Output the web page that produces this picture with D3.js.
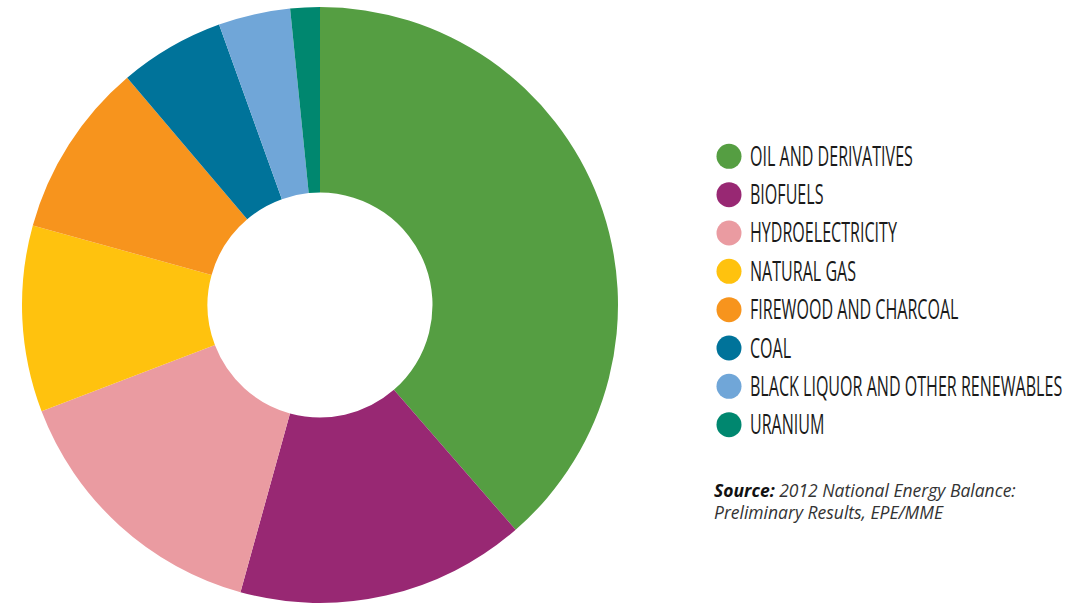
<!DOCTYPE html>
<html>
<head>
  <meta charset="utf-8">
  <title>Energy supply donut</title>
  <script src="https://d3js.org/d3.v7.min.js"></script>
  <style>
    body { margin: 0; background: #fff; }
    .legend text {
      font-family: "Open Sans", sans-serif;
      font-size: 27px;
      fill: #1a1a1a;
    }
    .source {
      font-family: "Open Sans", sans-serif;
      font-style: italic;
      font-size: 17.5px;
      fill: #333;
    }
  </style>
</head>
<body>
  <script>
    // Data (share of domestic energy supply, %)
    var categories = ["OIL AND DERIVATIVES", "BIOFUELS", "HYDROELECTRICITY", "NATURAL GAS",
                      "FIREWOOD AND CHARCOAL", "COAL", "BLACK LIQUOR AND OTHER RENEWABLES", "URANIUM"];
    var values = [38.6, 15.7, 14.9, 10.1, 9.5, 5.7, 3.9, 1.6];
    var colors = ["#559e42", "#982873", "#ea9ba1", "#ffc20e", "#f7941d", "#00739a", "#70a6d8", "#00876f"];

    var width = 1083, height = 604;

    var svg = d3.select("body")
      .append("svg")
      .attr("width", width)
      .attr("height", height);

    var pie = d3.pie()
      .sort(null)
      .value(function(d) { return d; });

    var arc = d3.arc()
      .innerRadius(112.5)
      .outerRadius(298);

    var g = svg.append("g")
      .attr("transform", "translate(320,305)");

    g.selectAll("path")
      .data(pie(values))
      .enter().append("path")
      .attr("d", arc)
      .attr("fill", function(d, i) { return colors[i]; });

    // Legend
    var y = d3.scalePoint()
      .domain(categories)
      .range([156.3, 424.7]);

    var legend = svg.selectAll(".legend")
      .data(categories)
      .enter().append("g")
      .attr("class", "legend")
      .attr("transform", function(d) { return "translate(729," + y(d) + ")"; });

    legend.append("circle")
      .attr("r", 12.5)
      .attr("fill", function(d, i) { return colors[i]; });

    legend.append("text")
      .attr("transform", "translate(21,9.5) scale(0.595,1)")
      .text(function(d) { return d; });

    // Source note
    var src = svg.append("text")
      .attr("class", "source")
      .attr("x", 714)
      .attr("y", 497);
    src.append("tspan")
      .style("font-weight", "bold")
      .style("fill", "#111")
      .text("Source:");
    src.append("tspan")
      .text(" 2012 National Energy Balance:");
    svg.append("text")
      .attr("class", "source")
      .attr("x", 714)
      .attr("y", 519)
      .text("Preliminary Results, EPE/MME");
  </script>
</body>
</html>
